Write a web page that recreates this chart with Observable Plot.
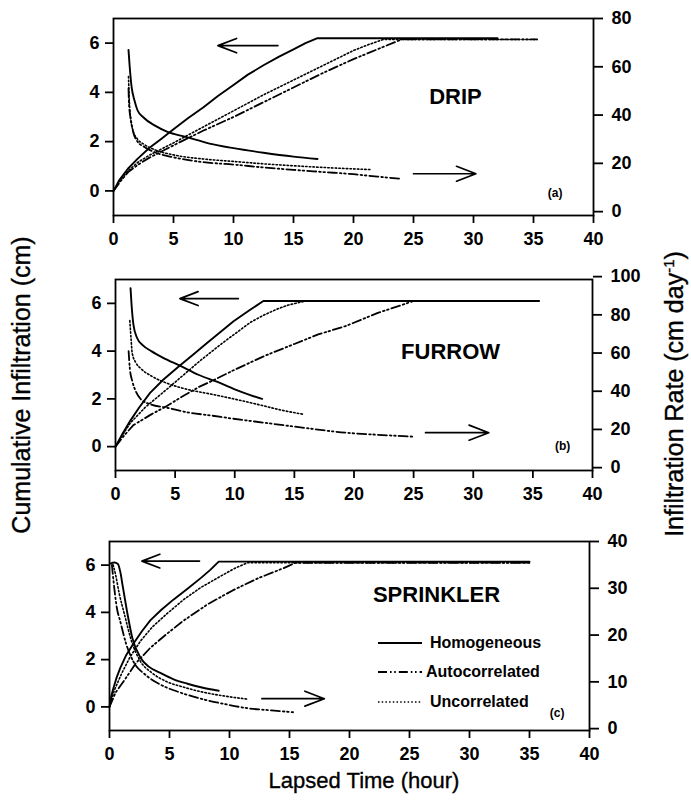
<!DOCTYPE html>
<html>
<head>
<meta charset="utf-8">
<script src="https://cdn.jsdelivr.net/npm/d3@7"></script>
<script src="https://cdn.jsdelivr.net/npm/@observablehq/plot@0.6"></script>
<style>
  body { margin: 0; background: #fff; }
  #chart { position: relative; width: 691px; height: 810px; font-family: "Liberation Sans", Arial, sans-serif; color: #000; overflow: hidden; }
  .layer { position: absolute; left: 0; }
  .title { position: absolute; white-space: nowrap; font-size: 25px; line-height: 1; -webkit-text-stroke: 0.35px #000; }
  .title sup { font-size: 15px; }
  .legend { position: absolute; font-weight: bold; font-size: 16px; }
  .legend .row { position: absolute; white-space: nowrap; display: flex; align-items: center; }
</style>
</head>
<body>
<div id="chart"></div>
<script>
// ---------------- data ----------------
const timeTicks = [0, 5, 10, 15, 20, 25, 30, 35, 40];
const cumTicks = [0, 2, 4, 6];
const dripRateTicks = [0, 20, 40, 60, 80];
const furrowRateTicks = [0, 20, 40, 60, 80, 100];
const sprinklerRateTicks = [0, 10, 20, 30, 40];
const panelNames = ["DRIP", "FURROW", "SPRINKLER"];
const panelTags = ["(a)", "(b)", "(c)"];
const seriesNames = ["Homogeneous", "Autocorrelated", "Uncorrelated"];

// DRIP: cumulative infiltration (cm) vs time (hour)
const dripCumHomogeneous = [[0,0],[0.5,0.45],[1.2,0.9],[2,1.3],[3,1.75],[4,2.12],[5,2.5],[6.2,2.95],[7.5,3.4],[8.7,3.85],[10,4.3],[11.2,4.72],[12.5,5.1],[13.8,5.45],[15,5.75],[16,6.0],[17,6.2],[32,6.2]];
const dripCumAutocorrelated = [[0,0],[0.6,0.4],[1.2,0.75],[2,1.05],[3,1.35],[4,1.6],[5,1.85],[7.5,2.45],[10,3.0],[12.5,3.6],[15,4.2],[17.5,4.8],[20,5.35],[22,5.75],[24,6.15],[35.3,6.15]];
const dripCumUncorrelated = [[0,0],[0.6,0.45],[1.2,0.8],[2,1.15],[3,1.45],[4,1.7],[5,1.95],[7.5,2.6],[10,3.25],[12.5,3.9],[15,4.5],[17.5,5.1],[20,5.7],[21.3,5.95],[22.5,6.15],[35.3,6.15]];
// DRIP: infiltration rate (cm/day)
const dripRateHomogeneous = [[1.25,67],[1.35,60],[1.5,52],[1.75,46],[2,42],[2.5,39],[3.5,35.5],[4.5,33],[6,31],[8,28.2],[10,26.3],[12.5,24.4],[15,22.8],[17,21.8]];
const dripRateAutocorrelated = [[1.25,51],[1.3,44],[1.45,38],[1.7,32],[2,29],[2.5,27],[3.5,24.5],[5,22.5],[7.5,20.5],[10,19.5],[12.5,18.3],[15,17.3],[17.5,16.4],[20,15.5],[22,14.5],[24,13.6]];
const dripRateUncorrelated = [[1.25,56],[1.3,48],[1.4,40],[1.6,34],[2,30],[2.5,28],[3.5,25.5],[5,23.5],[7.5,21.8],[10,20.8],[12.5,19.8],[15,19],[17.5,18.3],[20,17.7],[21.5,17.4]];

// FURROW
const furrowCumHomogeneous = [[0,0],[0.6,0.55],[1.26,1.1],[2,1.65],[2.9,2.25],[4,2.8],[5.4,3.4],[6.5,3.85],[7.7,4.35],[8.8,4.8],[9.9,5.25],[11.2,5.7],[12.4,6.1],[35.5,6.1]];
const furrowCumAutocorrelated = [[0,0],[0.7,0.45],[1.5,0.9],[3,1.35],[4.3,1.7],[5.6,2.1],[7,2.5],[8.5,2.85],[9.9,3.2],[12.5,3.8],[15,4.3],[17,4.7],[19.3,5.05],[22,5.6],[25,6.1],[35.5,6.1]];
const furrowCumUncorrelated = [[0,0],[0.6,0.5],[1.26,1.0],[2.5,1.65],[4.3,2.4],[5.7,3.0],[7.1,3.6],[9,4.35],[11.3,5.2],[12.4,5.5],[13.5,5.75],[14.5,5.93],[15.5,6.05],[16,6.1],[35.5,6.1]];
const furrowRateHomogeneous = [[1.26,94],[1.35,85],[1.5,75],[1.8,68],[2.3,64],[3,61],[4,57.5],[5.4,53.4],[7,48.5],[8.5,45],[10,41],[11.3,38],[12.3,36]];
const furrowRateAutocorrelated = [[1.1,61],[1.2,52],[1.4,45.5],[1.7,40],[2.1,36],[3,33],[4.3,31.4],[6,29],[8,27.3],[9.9,25.6],[12.5,23.5],[15,21.5],[19.3,18.3],[22,17.2],[25.1,16.2]];
const furrowRateUncorrelated = [[1.2,77],[1.3,68],[1.4,60],[1.7,55],[2.1,52],[3,48],[4.4,44],[6,41],[8,38.5],[9.9,36],[12,33],[14,30],[15.7,28]];

// SPRINKLER
const sprinklerCumHomogeneous = [[0,0],[0.15,0.45],[0.3,0.75],[0.6,1.25],[0.9,1.65],[1.4,2.2],[2,2.68],[2.7,3.2],[3.4,3.66],[4.3,4.1],[5.35,4.55],[6.5,5.0],[7.6,5.45],[8.4,5.8],[9.1,6.15],[35,6.15]];
const sprinklerCumAutocorrelated = [[0,0],[0.5,0.6],[1.2,1.1],[2.2,1.85],[3.4,2.5],[4.8,3.1],[6.2,3.66],[8.2,4.35],[10.3,4.94],[12.4,5.45],[14.5,5.87],[15.5,6.1],[35,6.1]];
const sprinklerCumUncorrelated = [[0,0],[0.4,0.7],[1,1.4],[1.7,2.1],[2.6,2.8],[3.6,3.4],[4.8,3.95],[6.2,4.55],[7.6,5.05],[9.5,5.6],[10.5,5.88],[11.5,6.1],[35,6.1]];
const sprinklerRateHomogeneous = [[0.1,35.3],[0.4,35.5],[0.7,35.2],[0.9,33.5],[1.1,30.5],[1.5,24.5],[1.9,19.4],[2.6,15.1],[3.3,13.2],[4.25,11.9],[5.3,10.6],[6.5,9.6],[7.7,8.8],[9.1,8.1]];
const sprinklerRateAutocorrelated = [[0.2,35],[0.4,30],[0.6,26],[0.9,22.9],[1.4,18],[2,14.3],[3,11.5],[4.25,9.4],[5.8,7.8],[7.6,6.4],[9.5,5.3],[11.7,4.3],[13.5,3.9],[15.3,3.5]];
const sprinklerRateUncorrelated = [[0.3,35],[0.5,33],[0.8,29],[1.25,24.4],[1.8,19],[2.6,14.3],[3.5,12],[4.8,10],[6,9],[7.6,7.9],[9.5,7],[11.5,6.3]];

// annotation arrows (from -> to, in data units): cumulative (left axis) and rate (right axis)
const dripCumArrow = [13.7, 5.9, 8.7, 5.9];
const dripRateArrow = [25, 15.7, 30.2, 15.7];
const furrowCumArrow = [10.3, 6.2, 5.4, 6.2];
const furrowRateArrow = [26, 18.3, 31.3, 18.3];
const sprinklerCumArrow = [7.5, 6.17, 2.7, 6.17];
const sprinklerRateArrow = [12.7, 6.4, 17.9, 6.4];

// ---------------- layout / styles ----------------
const FONT = '"Liberation Sans", Arial, sans-serif';
const dashes = { Homogeneous: null, Autocorrelated: "9,3,1.6,2.6,1.6,3", Uncorrelated: "1.5,2.2" };
const widths = { Homogeneous: 1.9, Autocorrelated: 1.8, Uncorrelated: 1.6 };

const layout = [
  { top: 18, bottom: 215, left: 113, right: 593, cumDomain: [-1, 7], rateDomain: [-1.6, 80],
    rateTicks: dripRateTicks, name: [28.5, 3.8], tag: [36.8, -0.1],
    cum: [dripCumHomogeneous, dripCumAutocorrelated, dripCumUncorrelated],
    rate: [dripRateHomogeneous, dripRateAutocorrelated, dripRateUncorrelated],
    cumArrow: dripCumArrow, rateArrow: dripRateArrow },
  { top: 279, bottom: 470, left: 115, right: 592, cumDomain: [-1, 7], rateDomain: [-1.5, 98.5],
    rateTicks: furrowRateTicks, name: [28.1, 3.96], tag: [37.5, 0],
    cum: [furrowCumHomogeneous, furrowCumAutocorrelated, furrowCumUncorrelated],
    rate: [furrowRateHomogeneous, furrowRateAutocorrelated, furrowRateUncorrelated],
    cumArrow: furrowCumArrow, rateArrow: furrowRateArrow },
  { top: 541, bottom: 730, left: 109, right: 589, cumDomain: [-1, 7], rateDomain: [-0.4, 40],
    rateTicks: sprinklerRateTicks, name: [27.25, 4.72], tag: [37.3, -0.25],
    cum: [sprinklerCumHomogeneous, sprinklerCumAutocorrelated, sprinklerCumUncorrelated],
    rate: [sprinklerRateHomogeneous, sprinklerRateAutocorrelated, sprinklerRateUncorrelated],
    cumArrow: sprinklerCumArrow, rateArrow: sprinklerRateArrow }
];

const chart = document.getElementById("chart");
const W = 691, MT = 12, MB = 46;

function seriesLines(sets, curve) {
  return sets.map((d, i) => Plot.line(d, {
    stroke: "#000",
    strokeWidth: widths[seriesNames[i]],
    strokeDasharray: dashes[seriesNames[i]],
    curve
  }));
}
function arrowMark(a) {
  return Plot.arrow([a], {
    x1: d => d[0], y1: d => d[1], x2: d => d[2], y2: d => d[3],
    stroke: "#000", strokeWidth: 1.7, headLength: 19, headAngle: 42
  });
}

layout.forEach((cfg, p) => {
  const h = MT + (cfg.bottom - cfg.top) + MB;
  const common = {
    width: W, height: h, marginTop: MT, marginBottom: MB,
    marginLeft: cfg.left, marginRight: W - cfg.right,
    style: { background: "transparent", overflow: "visible", fontFamily: FONT, fontSize: "18px", fontWeight: "bold", color: "#000" }
  };
  const cum = Plot.plot({
    ...common,
    x: { domain: [0, 40] },
    y: { domain: cfg.cumDomain },
    marks: [
      Plot.frame({ stroke: "#000", strokeWidth: 1.8 }),
      Plot.axisX({ ticks: timeTicks, tickSize: 8, tickPadding: 9, label: null, strokeWidth: 1.8, fontSize: 18, fontWeight: "bold" }),
      Plot.axisY({ anchor: "left", ticks: cumTicks, tickSize: 8, tickPadding: 6, label: null, strokeWidth: 1.8, fontSize: 18, fontWeight: "bold" }),
      ...seriesLines(cfg.cum, "linear"),
      arrowMark(cfg.cumArrow),
      Plot.text([panelNames[p]], { x: () => cfg.name[0], y: () => cfg.name[1], fontSize: 22, fontWeight: "bold" }),
      Plot.text([panelTags[p]], { x: () => cfg.tag[0], y: () => cfg.tag[1], fontSize: 12, fontWeight: "bold" })
    ]
  });
  const rate = Plot.plot({
    ...common,
    x: { domain: [0, 40], axis: null },
    y: { domain: cfg.rateDomain },
    marks: [
      Plot.axisY({ anchor: "right", ticks: cfg.rateTicks, tickSize: 9, tickPadding: 9, label: null, strokeWidth: 1.8, fontSize: 18, fontWeight: "bold" }),
      ...seriesLines(cfg.rate, "monotone-x"),
      arrowMark(cfg.rateArrow)
    ]
  });
  [cum, rate].forEach(svg => {
    svg.classList.add("layer");
    svg.style.top = (cfg.top - MT) + "px";
    chart.appendChild(svg);
  });
});

// axis titles
function addTitle(html, cx, cy, rotate, size) {
  const el = document.createElement("div");
  el.className = "title";
  el.innerHTML = html;
  el.style.fontSize = size + "px";
  el.style.left = cx + "px";
  el.style.top = cy + "px";
  el.style.transform = `translate(-50%, -50%)${rotate ? " rotate(-90deg)" : ""}`;
  chart.appendChild(el);
}
addTitle("Cumulative Infiltration (cm)", 21, 385, true, 25);
addTitle("Infiltration Rate (cm day<sup>-1</sup>)", 674, 394, true, 25);
addTitle("Lapsed Time (hour)", 364, 781, false, 22);

// legend (inside SPRINKLER panel)
const legend = document.createElement("div");
legend.className = "legend";
chart.appendChild(legend);
const legendRows = [643, 672, 702];
seriesNames.forEach((name, i) => {
  const row = document.createElement("div");
  row.className = "row";
  row.style.left = "378px";
  row.style.top = (legendRows[i] - 10) + "px";
  row.style.height = "20px";
  const s = d3.create("svg").attr("width", 46).attr("height", 20);
  s.append("line").attr("x1", 0).attr("x2", 44).attr("y1", 10).attr("y2", 10)
    .attr("stroke", "#000").attr("stroke-width", widths[name])
    .attr("stroke-dasharray", dashes[name]);
  row.appendChild(s.node());
  const t = document.createElement("span");
  t.textContent = name;
  t.style.marginLeft = (i === 1 ? "2px" : "6px");
  row.appendChild(t);
  legend.appendChild(row);
});
</script>
</body>
</html>
